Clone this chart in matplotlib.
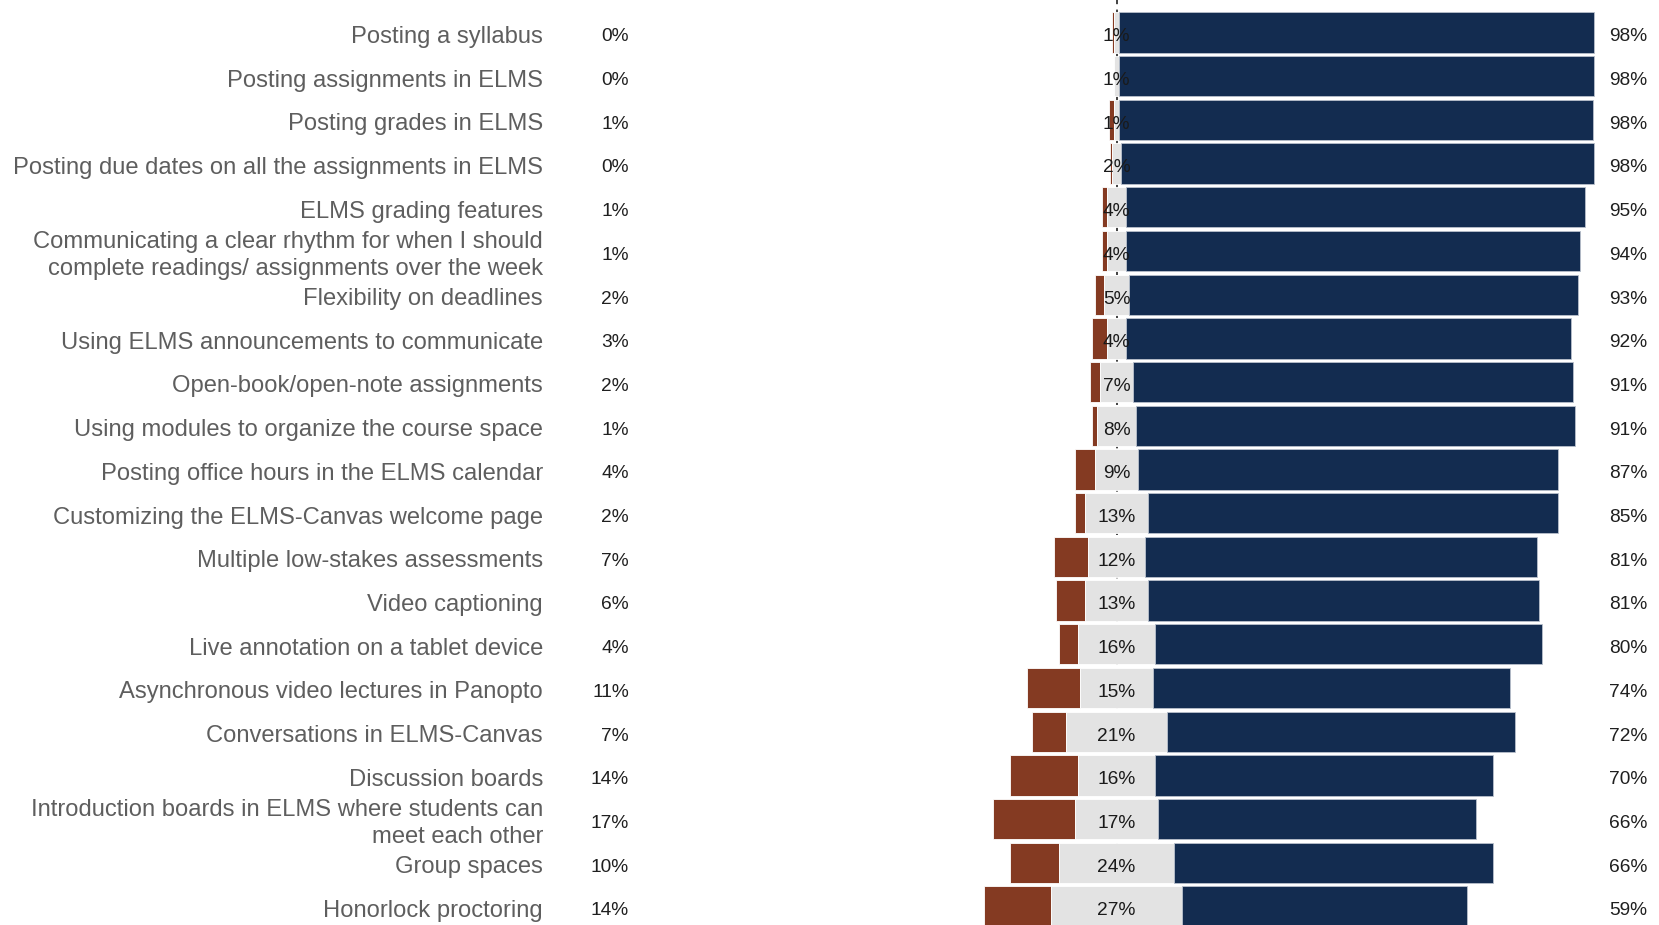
import matplotlib
matplotlib.use("Agg")
import matplotlib.pyplot as plt
from matplotlib.transforms import blended_transform_factory
import numpy as np

categories = [
    "Posting a syllabus",
    "Posting assignments in ELMS",
    "Posting grades in ELMS",
    "Posting due dates on all the assignments in ELMS",
    "ELMS grading features",
    "Communicating a clear rhythm for when I should\ncomplete readings/ assignments over the week",
    "Flexibility on deadlines",
    "Using ELMS announcements to communicate",
    "Open-book/open-note assignments",
    "Using modules to organize the course space",
    "Posting office hours in the ELMS calendar",
    "Customizing the ELMS-Canvas welcome page",
    "Multiple low-stakes assessments",
    "Video captioning",
    "Live annotation on a tablet device",
    "Asynchronous video lectures in Panopto",
    "Conversations in ELMS-Canvas",
    "Discussion boards",
    "Introduction boards in ELMS where students can\nmeet each other",
    "Group spaces",
    "Honorlock proctoring",
]
low = [0.4, 0.0, 1.0, 0.3, 1.0, 1.0, 2.0, 3.0, 2.0, 1.0, 4.0, 2.0, 7.0, 6.0, 4.0, 11.0, 7.0, 14.0, 17.0, 10.0, 14.0]
neutral = [1.0, 1.0, 1.0, 2.0, 4.0, 4.0, 5.0, 4.0, 7.0, 8.0, 9.0, 13.0, 12.0, 13.0, 16.0, 15.0, 21.0, 16.0, 17.0, 24.0, 27.0]
high = [98.4, 98.4, 98.2, 97.8, 95.0, 94.0, 93.0, 92.0, 91.0, 91.0, 87.0, 85.0, 81.0, 81.0, 80.0, 74.0, 72.0, 70.0, 66.0, 66.0, 59.0]

W, H = 1659, 925
fig = plt.figure(figsize=(W / 100, H / 100), dpi=100)
ax = fig.add_axes([0, 0, 1, 1])
ax.set_axis_off()

center_px = 1116.5
px_per = 4.83
row_px = 43.7
first_px = 32.5
ax.set_xlim(-center_px / px_per, (W - center_px) / px_per)
ax.set_ylim((H - first_px) / row_px, -first_px / row_px)

c_low = "#843A22"
c_neu = "#E3E3E3"
c_high = "#132C50"

y = np.arange(len(categories))
low_a = np.array(low)
neu_a = np.array(neutral)
high_a = np.array(high)
h = 0.92

ax.axvline(0, color="#333333", lw=1.3, ls=(0, (3, 3)), zorder=0)
ax.barh(y, -low_a, left=-neu_a / 2, height=h, color=c_low, edgecolor="white", linewidth=0.6, zorder=2)
ax.barh(y, neu_a, left=-neu_a / 2, height=h, color=c_neu, edgecolor="white", linewidth=0.6, zorder=2)
ax.barh(y, high_a, left=neu_a / 2, height=h, color=c_high, edgecolor="#B8C0CC", linewidth=0.6, zorder=2)

tr = blended_transform_factory(fig.transFigure, ax.transData)
font = "Liberation Sans"
dy = 0.1
for i, cat in enumerate(categories):
    ax.text(543 / W, i + dy, cat, transform=tr, ha="right", va="center",
            fontsize=17.1, color="#5E5E5E", family=font, linespacing=1.3)
    ax.text(629 / W, i + dy, f"{round(low[i]):.0f}%", transform=tr, ha="right", va="center",
            fontsize=13.8, color="#1F1F1F", family=font)
    ax.text(1647 / W, i + dy, f"{round(high[i]):.0f}%", transform=tr, ha="right", va="center",
            fontsize=13.8, color="#1F1F1F", family=font)
    ax.text(0, i + dy, f"{round(neutral[i]):.0f}%", ha="center", va="center",
            fontsize=13.8, color="#1A1A1A", family=font, zorder=3)

fig.savefig("out.png", dpi=100, facecolor="white")
